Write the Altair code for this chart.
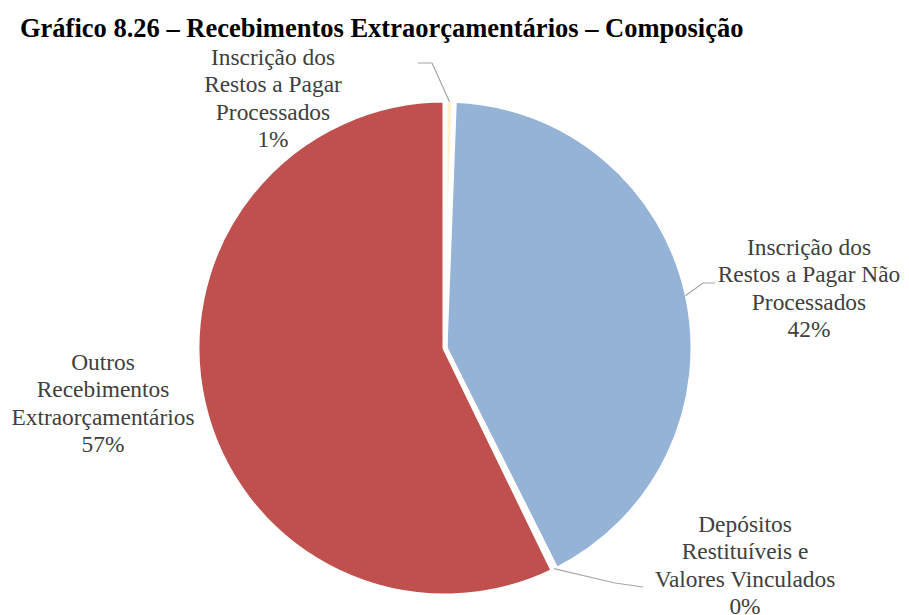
import math
import altair as alt
import pandas as pd

# ---------------- data ----------------
title_text = "Gráfico 8.26 – Recebimentos Extraorçamentários – Composição"
categories = [
    "Inscrição dos Restos a Pagar Processados",
    "Inscrição dos Restos a Pagar Não Processados",
    "Depósitos Restituíveis e Valores Vinculados",
    "Outros Recebimentos Extraorçamentários",
]
label_lines = [
    ["Inscrição dos", "Restos a Pagar", "Processados"],
    ["Inscrição dos", "Restos a Pagar Não", "Processados"],
    ["Depósitos", "Restituíveis e", "Valores Vinculados"],
    ["Outros", "Recebimentos", "Extraorçamentários"],
]
shares = [0.6, 42.0, 0.2, 57.2]  # percent
colors = ["#FFF2CC", "#95B3D7", "#D9D9D9", "#C0504D"]

# ---------------- layout (chart pixel coords) ----------------
W, H = 893, 606
CX, CY, R = 437, 340, 246
LINE_H = 27.3
FONT = "Liberation Serif"
label_pos = [(265, 50), (801, 240), (737, 517), (95, 355)]  # centre x, first-line y
leader_rest = [[(424, 55), (410, 55)],
               [(695, 275), (707, 275)],
               [(607, 575), (635, 579)],
               None]

# ---------------- derived tables ----------------
pie_df = pd.DataFrame({"cat": categories, "share": shares, "ord": list(range(len(categories)))})

text_rows = []
for i, cat in enumerate(categories):
    lines = label_lines[i] + [f"{round(shares[i])}%"]
    cx, y0 = label_pos[i]
    for j, ln in enumerate(lines):
        text_rows.append({"cat": cat, "txt": ln, "x": cx, "y": y0 + j * LINE_H})
text_df = pd.DataFrame(text_rows)

leader_rows = []
cum = 0.0
for i, cat in enumerate(categories):
    mid = (cum + shares[i] / 2) / 100 * 2 * math.pi
    cum += shares[i]
    if leader_rest[i] is None:
        continue
    pts = [(CX + R * math.sin(mid), CY - R * math.cos(mid))] + leader_rest[i]
    for k, (px, py) in enumerate(pts):
        leader_rows.append({"cat": cat, "seq": k, "x": px, "y": py})
leader_df = pd.DataFrame(leader_rows)

xs = alt.Scale(domain=[0, W], range=[0, W], nice=False, zero=False)
ys = alt.Scale(domain=[0, H], range=[0, H], nice=False, zero=False)

arc = alt.Chart(pie_df).mark_arc(outerRadius=R + 2, stroke="white", strokeWidth=5).encode(
    theta=alt.Theta("share:Q", stack=True),
    order=alt.Order("ord:Q"),
    color=alt.Color("cat:N", scale=alt.Scale(domain=categories, range=colors), legend=None),
    x=alt.value(CX),
    y=alt.value(CY),
)

leaders = alt.Chart(leader_df).mark_line(color="#A6A6A6", strokeWidth=1.2).encode(
    x=alt.X("x:Q", scale=xs, axis=None),
    y=alt.Y("y:Q", scale=ys, axis=None),
    detail="cat:N",
    order="seq:Q",
)

labels = alt.Chart(text_df).mark_text(
    font=FONT, fontSize=23.4, color="#404040", align="center", baseline="middle"
).encode(
    x=alt.X("x:Q", scale=xs, axis=None),
    y=alt.Y("y:Q", scale=ys, axis=None),
    text="txt:N",
)

title = alt.Chart(pd.DataFrame({"t": [title_text]})).mark_text(
    font=FONT, fontSize=26.5, fontWeight="bold", color="black", align="left", baseline="alphabetic"
).encode(text="t:N", x=alt.value(12), y=alt.value(29))

chart = alt.layer(arc, leaders, labels, title).properties(
    width=W, height=H, autosize="none", padding=0
).configure_view(stroke=None)

chart.save("out.html", embed_options={"renderer": "svg", "actions": False})
